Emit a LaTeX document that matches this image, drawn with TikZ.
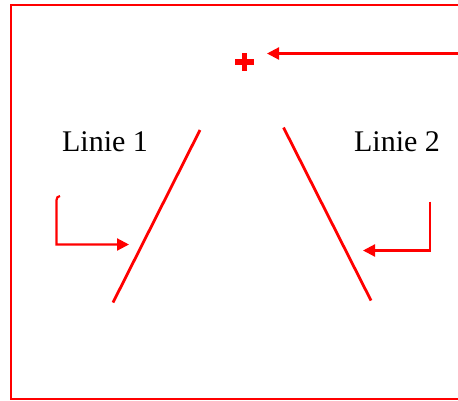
\documentclass[tikz,border=0pt]{standalone}
\usepackage{fontspec}
\setmainfont{Liberation Serif}
\usetikzlibrary{arrows.meta}
\begin{document}
\begin{tikzpicture}[x=1pt,y=-1pt,
  redline/.style={draw=red,line width=2.8pt},
  redarrow/.style={draw=red,line width=2.2pt,-{Triangle[length=12pt,width=12pt]}},
  lbl/.style={font=\fontsize{30}{35}\selectfont,inner sep=0pt,anchor=base}]
\useasboundingbox (0,0) rectangle (458,400);
\draw[red,line width=2.4pt] (11,5) rectangle (462,399);
% plus sign
\node[fill=red,minimum width=19pt,minimum height=5.5pt,inner sep=0pt] (plush) at (244.5,62) {};
\node[fill=red,minimum width=5.5pt,minimum height=18pt,inner sep=0pt] (plusv) at (244.5,62) {};
% labels
\node[lbl] (l1) at (105,151.5) {Linie 1};
\node[lbl] (l2) at (397,151.5) {Linie 2};
% lines
\coordinate (a1) at (200,130);
\coordinate (b1) at (113,302.5);
\coordinate (a2) at (283.5,127.5);
\coordinate (b2) at (371,300.5);
\draw[redline] (a1) -- (b1);
\draw[redline] (a2) -- (b2);
% top arrow
\coordinate (ts) at (462,53.5);
\coordinate (te) at (267,53.5);
\draw[redarrow] (ts) -- (te);
% left arrow
\coordinate (ls) at (60,196);
\coordinate (le) at (129,244.5);
\draw[redarrow] (ls) to[out=180,in=90] (56.5,200) -- (56.5,244.5) -- (le);
% right arrow
\coordinate (rs) at (430,201.5);
\coordinate (re) at (363,250.5);
\draw[redarrow] (rs) -- (430,250.5) -- (re);
\end{tikzpicture}
\end{document}
